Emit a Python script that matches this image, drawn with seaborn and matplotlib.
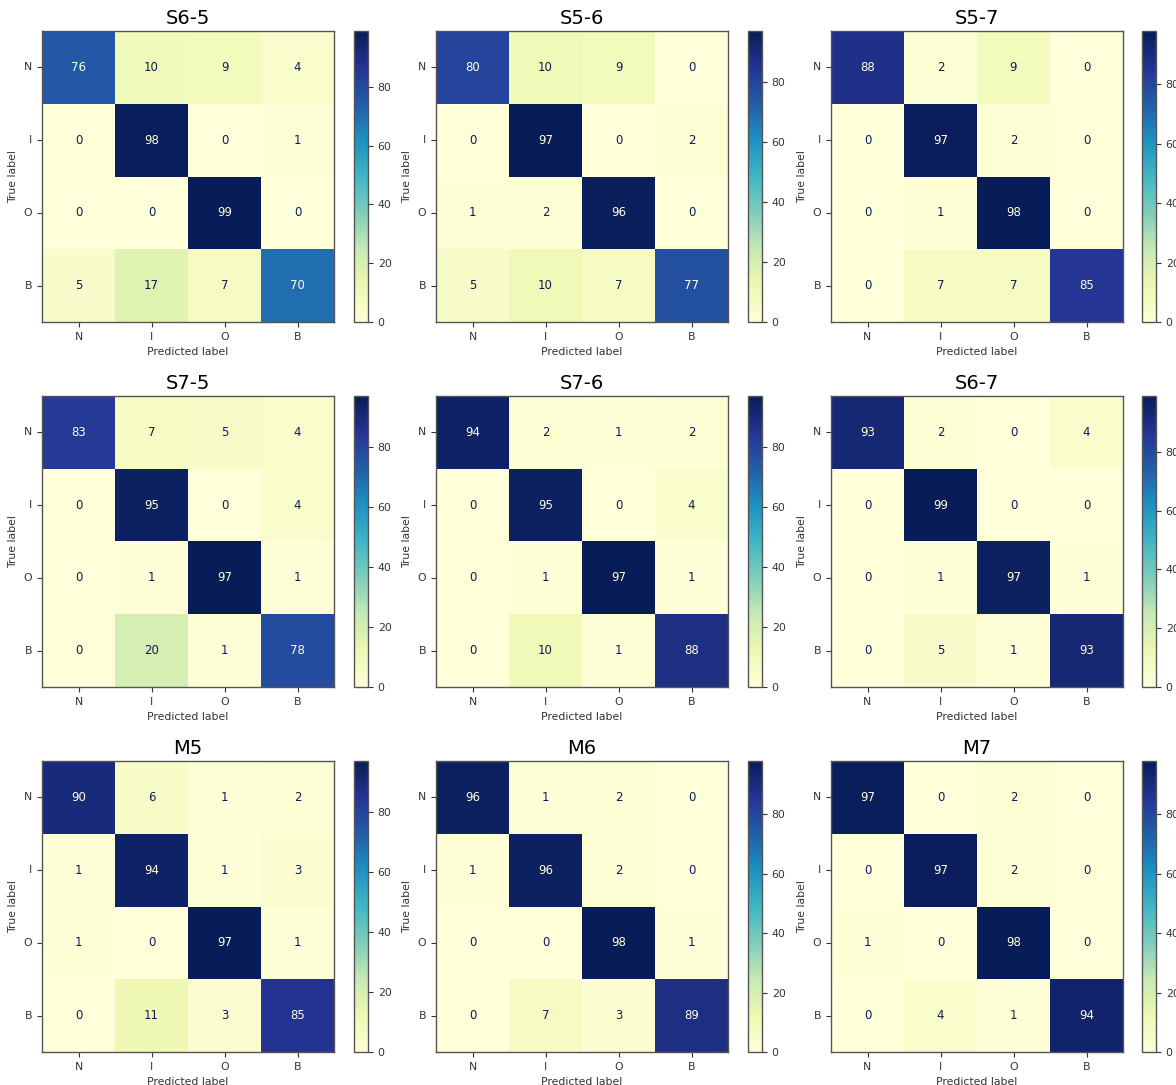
import numpy as np
import pandas as pd
import matplotlib
matplotlib.use("Agg")
import matplotlib.pyplot as plt
import seaborn as sns

# class labels shared by every confusion matrix
classes = ["N", "I", "O", "B"]

# panel titles, in reading order
titles = ["S6-5", "S5-6", "S5-7",
          "S7-5", "S7-6", "S6-7",
          "M5", "M6", "M7"]

# confusion matrices (percent), rows = true label, cols = predicted label
cm_s6_5 = [[76, 10, 9, 4], [0, 98, 0, 1], [0, 0, 99, 0], [5, 17, 7, 70]]
cm_s5_6 = [[80, 10, 9, 0], [0, 97, 0, 2], [1, 2, 96, 0], [5, 10, 7, 77]]
cm_s5_7 = [[88, 2, 9, 0], [0, 97, 2, 0], [0, 1, 98, 0], [0, 7, 7, 85]]
cm_s7_5 = [[83, 7, 5, 4], [0, 95, 0, 4], [0, 1, 97, 1], [0, 20, 1, 78]]
cm_s7_6 = [[94, 2, 1, 2], [0, 95, 0, 4], [0, 1, 97, 1], [0, 10, 1, 88]]
cm_s6_7 = [[93, 2, 0, 4], [0, 99, 0, 0], [0, 1, 97, 1], [0, 5, 1, 93]]
cm_m5 = [[90, 6, 1, 2], [1, 94, 1, 3], [1, 0, 97, 1], [0, 11, 3, 85]]
cm_m6 = [[96, 1, 2, 0], [1, 96, 2, 0], [0, 0, 98, 1], [0, 7, 3, 89]]
cm_m7 = [[97, 0, 2, 0], [0, 97, 2, 0], [1, 0, 98, 0], [0, 4, 1, 94]]

matrices = [cm_s6_5, cm_s5_6, cm_s5_7,
            cm_s7_5, cm_s7_6, cm_s6_7,
            cm_m5, cm_m6, cm_m7]

plt.rcParams["font.family"] = ["DejaVu Sans"]

W, H = 1176, 1085
fig = plt.figure(figsize=(W / 100, H / 100), dpi=100, facecolor="white")

cmap = plt.get_cmap("YlGnBu")
low_text = cmap(1.0)
high_text = cmap(0.0)
edge = "#555555"

# grid geometry in pixels
heat_left = [42, 436, 831]
cbar_left = [354, 748, 1142]
row_top = [31, 396, 761]
heat_w, heat_h, cbar_w = 292, 291, 14

for k, (title, mat) in enumerate(zip(titles, matrices)):
    r, c = divmod(k, 3)
    ax = fig.add_axes([heat_left[c] / W, 1 - (row_top[r] + heat_h) / H,
                       heat_w / W, heat_h / H])
    cax = fig.add_axes([cbar_left[c] / W, 1 - (row_top[r] + heat_h) / H,
                        cbar_w / W, heat_h / H])
    df = pd.DataFrame(mat, index=classes, columns=classes)
    vmin, vmax = df.values.min(), df.values.max()
    sns.heatmap(df, ax=ax, cbar_ax=cax, cmap="YlGnBu", vmin=vmin, vmax=vmax,
                annot=True, fmt="d", annot_kws={"fontsize": 8.5},
                xticklabels=classes, yticklabels=classes)
    # text colour flips at the midpoint of the value range
    thresh = (vmin + vmax) / 2.0
    for txt in ax.texts:
        v = float(txt.get_text())
        txt.set_color(high_text if v > thresh else low_text)

    ax.set_title(title, fontsize=14, pad=5)
    ax.set_xlabel("Predicted label", fontsize=7.8, color="#333333")
    ax.set_ylabel("True label", fontsize=7.8, color="#333333")
    ax.tick_params(axis="both", labelsize=7.8, length=3.5, width=0.8,
                   colors="#333333")
    ax.set_yticklabels(classes, rotation=0)
    ax.set_xticklabels(classes, rotation=0)
    for s in ax.spines.values():
        s.set_visible(True)
        s.set_color(edge)
        s.set_linewidth(1.0)

    cb = ax.collections[0].colorbar
    cb.set_ticks([0, 20, 40, 60, 80])
    cb.outline.set_visible(True)
    cb.outline.set_linewidth(1.0)
    cb.outline.set_edgecolor(edge)
    cax.tick_params(labelsize=7.8, length=3.5, width=0.8, colors="#333333")

fig.savefig("out.png", dpi=100, facecolor="white")
